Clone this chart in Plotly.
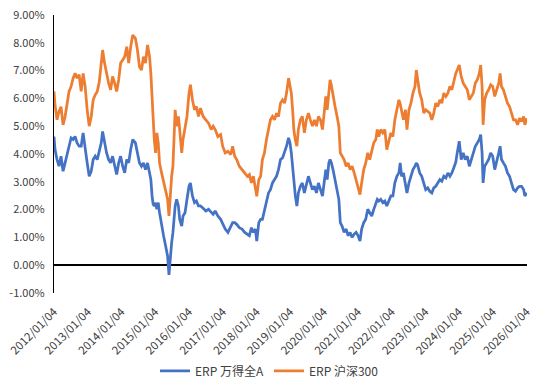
import plotly.graph_objects as go

dates = [
    "2012-01-04","2012-01-15","2012-02-06","2012-02-27","2012-03-20","2012-04-11","2012-05-03","2012-05-24",
    "2012-06-15","2012-07-07","2012-07-29","2012-08-19","2012-09-10","2012-10-02","2012-10-24","2012-11-14",
    "2012-12-06","2012-12-28","2013-01-19","2013-02-10","2013-03-03","2013-03-25","2013-04-16","2013-05-08",
    "2013-05-29","2013-06-13","2013-07-04","2013-07-26","2013-08-17","2013-09-08","2013-09-29","2013-10-21",
    "2013-11-12","2013-12-04","2013-12-25","2014-01-16","2014-02-07","2014-03-01","2014-03-22","2014-04-13",
    "2014-05-05","2014-06-03","2014-06-25","2014-07-17","2014-08-08","2014-08-29","2014-09-20","2014-10-12",
    "2014-11-03","2014-11-17","2014-11-30","2014-12-11","2014-12-24","2015-01-07","2015-01-21","2015-02-05",
    "2015-02-19","2015-03-13","2015-04-04","2015-04-26","2015-05-17","2015-06-01","2015-06-16","2015-06-30",
    "2015-07-14","2015-07-29","2015-08-07","2015-08-23","2015-09-11","2015-09-25","2015-10-17","2015-10-31",
    "2015-11-22","2015-12-13","2016-01-04","2016-01-19","2016-02-10","2016-03-03","2016-03-24","2016-04-15",
    "2016-05-07","2016-06-05","2016-07-04","2016-08-02","2016-08-31","2016-09-21","2016-10-13","2016-11-11",
    "2016-12-11","2017-01-02","2017-01-30","2017-02-28","2017-03-30","2017-04-20","2017-05-12","2017-06-03",
    "2017-07-01","2017-07-31","2017-08-29","2017-09-26","2017-10-18","2017-11-09","2017-11-30","2017-12-22",
    "2018-01-06","2018-01-28","2018-02-17","2018-03-08","2018-03-30","2018-04-21","2018-05-13","2018-06-03",
    "2018-06-25","2018-07-17","2018-08-08","2018-08-29","2018-09-20","2018-10-12","2018-11-03","2018-11-24",
    "2018-12-16","2018-12-31","2019-01-15","2019-01-29","2019-02-11","2019-02-27","2019-03-16","2019-04-01",
    "2019-04-23","2019-05-14","2019-06-05","2019-06-27","2019-07-19","2019-08-09","2019-08-31","2019-09-22",
    "2019-10-14","2019-11-04","2019-11-26","2019-12-18","2020-01-09","2020-01-23","2020-02-07","2020-02-25",
    "2020-03-09","2020-03-22","2020-04-10","2020-05-02","2020-05-24","2020-06-12","2020-06-28","2020-07-17",
    "2020-08-08","2020-08-30","2020-09-20","2020-10-12","2020-11-03","2020-11-25","2020-12-16","2021-01-07",
    "2021-01-27","2021-02-14","2021-03-08","2021-03-30","2021-04-21","2021-05-12","2021-06-03","2021-06-25",
    "2021-07-17","2021-08-02","2021-08-18","2021-09-09","2021-10-01","2021-10-23","2021-11-13","2021-12-05",
    "2021-12-27","2022-01-18","2022-02-08","2022-03-02","2022-03-24","2022-04-07","2022-04-22","2022-05-12",
    "2022-06-03","2022-06-19","2022-07-11","2022-08-01","2022-08-23","2022-09-14","2022-09-28","2022-10-13",
    "2022-11-04","2022-11-26","2022-12-18","2023-01-08","2023-01-30","2023-02-21","2023-03-15","2023-04-05",
    "2023-04-27","2023-05-19","2023-06-10","2023-07-01","2023-07-23","2023-08-14","2023-09-05","2023-09-27",
    "2023-10-18","2023-11-07","2023-11-29","2023-12-15","2024-01-06","2024-01-27","2024-02-18","2024-03-11",
    "2024-04-02","2024-04-24","2024-05-15","2024-06-06","2024-06-28","2024-07-20","2024-08-10","2024-08-25",
    "2024-09-09","2024-09-20","2024-10-07","2024-10-29","2024-11-19","2024-12-11","2025-01-02","2025-01-24",
    "2025-02-14","2025-03-08","2025-03-23","2025-04-07","2025-04-28","2025-05-20","2025-06-11","2025-07-03",
    "2025-07-24","2025-08-15","2025-09-06","2025-09-28","2025-10-19","2025-11-10","2025-12-02","2025-12-16",
    "2026-01-07",
]

erp_hs300 = [
    6.25,5.77,5.23,5.53,5.70,5.05,5.35,5.84,
    6.25,6.43,6.73,6.90,6.73,6.85,6.25,6.90,
    6.43,5.59,5.00,5.35,5.95,6.13,6.25,6.60,
    7.27,7.74,7.27,6.90,6.55,6.31,6.79,6.55,
    6.25,6.67,7.27,7.38,7.50,7.86,7.27,7.86,
    8.28,8.16,7.74,7.14,7.02,7.50,7.27,7.92,
    7.50,6.90,5.83,5.11,4.52,4.04,4.76,4.40,
    3.68,3.32,2.96,2.72,2.37,1.77,2.60,3.20,
    3.56,4.63,5.59,5.00,5.35,4.88,4.04,4.52,
    4.88,5.35,6.19,6.49,5.95,5.59,5.71,5.35,
    5.65,5.35,5.23,5.11,4.88,5.00,4.88,4.63,
    4.70,4.28,4.04,4.10,3.98,4.28,3.92,3.80,
    3.56,3.44,3.32,3.20,3.26,2.96,3.20,2.84,
    2.48,3.08,3.20,3.80,4.04,4.52,4.88,5.23,
    5.35,5.23,5.47,5.35,5.83,5.95,5.83,6.19,
    6.73,6.49,6.19,5.59,4.88,4.50,4.28,4.88,
    5.23,5.35,4.76,5.23,5.47,5.23,5.00,5.23,
    5.00,5.35,5.23,4.88,5.59,6.07,5.59,6.19,
    6.67,6.49,6.07,5.71,5.35,5.00,4.04,3.92,
    3.80,3.56,3.68,3.44,3.56,3.32,3.08,2.84,
    2.54,2.96,3.44,3.68,4.04,3.80,4.16,4.40,
    4.52,4.88,4.63,4.88,4.76,4.88,4.16,4.52,
    4.76,4.63,5.23,5.59,5.95,5.80,5.59,5.23,
    5.59,4.88,5.59,5.83,6.19,6.43,7.02,6.67,
    6.19,5.95,5.47,5.59,5.53,5.47,5.23,5.47,
    5.83,5.71,5.95,5.83,6.19,6.07,6.19,6.43,
    6.31,6.60,6.90,7.02,7.20,6.79,6.55,6.43,
    6.31,5.95,6.07,6.19,6.55,6.67,6.90,7.20,
    6.43,5.05,5.95,6.19,6.31,6.49,6.43,6.07,
    6.31,6.55,6.90,6.43,6.31,6.07,5.83,5.71,
    5.47,5.23,5.23,5.05,5.29,5.17,5.35,5.05,
    5.29,
]

erp_wind_a = [
    4.63,4.16,3.80,3.56,3.92,3.38,3.68,4.04,
    4.28,4.58,4.52,4.63,4.40,4.28,4.28,4.76,
    4.16,3.68,3.20,3.38,3.80,3.92,3.80,4.16,
    4.40,4.81,4.40,4.04,3.80,3.68,3.92,3.56,
    3.26,3.68,3.92,3.56,3.32,3.80,3.68,4.16,
    4.52,4.40,4.04,3.68,3.56,3.68,3.44,3.68,
    3.32,3.08,2.50,2.20,2.13,2.25,2.01,2.25,
    1.89,1.41,1.05,0.69,0.33,-0.35,0.45,0.81,
    1.18,1.65,2.13,2.37,2.13,1.65,1.41,1.77,
    1.89,2.37,2.84,2.96,2.49,2.25,2.31,2.13,
    2.13,2.05,1.95,2.01,1.89,1.83,1.95,1.77,
    1.65,1.50,1.30,1.18,1.40,1.53,1.53,1.47,
    1.35,1.30,1.18,1.12,1.06,1.35,1.18,1.30,
    0.87,1.53,1.65,1.65,2.01,2.25,2.60,2.72,
    2.96,3.08,3.20,3.44,3.80,3.86,4.04,4.28,
    4.58,4.40,4.04,3.44,2.90,2.50,2.13,2.60,
    2.84,2.96,2.60,2.96,3.20,2.96,2.72,2.84,
    2.60,2.96,2.72,2.49,3.08,3.44,3.08,3.68,
    3.80,3.70,3.44,3.08,2.72,2.37,1.53,1.41,
    1.18,1.30,1.06,1.18,1.00,1.12,1.18,1.06,
    0.87,1.30,1.53,1.65,2.01,1.89,1.77,2.01,
    2.25,2.37,2.31,2.37,2.25,2.31,2.13,2.31,
    2.49,2.49,2.96,3.20,3.32,3.68,3.20,3.32,
    2.96,2.60,2.96,3.20,3.44,3.56,3.68,3.60,
    3.32,3.20,2.96,2.72,2.78,2.66,2.60,2.78,
    2.84,2.96,3.08,3.02,3.20,3.14,3.32,3.20,
    3.32,3.50,3.70,4.04,4.46,3.80,4.04,3.80,
    3.92,3.56,3.80,4.04,4.28,4.40,4.52,4.70,
    4.04,2.96,3.56,3.68,3.80,4.04,3.92,3.44,
    3.80,4.04,4.28,3.80,3.68,3.56,3.32,3.20,
    2.96,2.72,2.66,2.78,2.84,2.84,2.72,2.49,
    2.60,
]

x_tick_dates = ["2012-01-04","2013-01-04","2014-01-04","2015-01-04","2016-01-04","2017-01-04",
                "2018-01-04","2019-01-04","2020-01-04","2021-01-04","2022-01-04","2023-01-04",
                "2024-01-04","2025-01-04","2026-01-04"]
x_tick_labels = ["2012/01/04","2013/01/04","2014/01/04","2015/01/04","2016/01/04","2017/01/04",
                 "2018/01/04","2019/01/04","2020/01/04","2021/01/04","2022/01/04","2023/01/04",
                 "2024/01/04","2025/01/04","2026/01/04"]
y_tick_vals = [-1, 0, 1, 2, 3, 4, 5, 6, 7, 8, 9]
y_tick_labels = ["-1.00%","0.00%","1.00%","2.00%","3.00%","4.00%","5.00%","6.00%","7.00%","8.00%","9.00%"]

FONT = "Noto Sans CJK SC"

fig = go.Figure()
fig.add_trace(go.Scatter(x=dates, y=erp_wind_a, mode="lines", name="ERP 万得全A",
                         line=dict(color="#4472C4", width=2.75)))
fig.add_trace(go.Scatter(x=dates, y=erp_hs300, mode="lines", name="ERP 沪深300",
                         line=dict(color="#ED7D31", width=2.75)))

fig.update_layout(
    width=550, height=390,
    margin=dict(l=54, r=23, t=15, b=97, autoexpand=False),
    paper_bgcolor="white", plot_bgcolor="white",
    font=dict(family=FONT, size=11, color="#404040"),
    showlegend=True,
    legend=dict(orientation="h", xref="container", yref="container", x=0.49, y=0.049,
                xanchor="center", yanchor="middle", font=dict(size=12, color="#404040"),
                itemwidth=30, tracegroupgap=0),
)
fig.update_xaxes(
    type="date", range=["2012-01-04", "2026-01-08"], automargin=False,
    tickvals=x_tick_dates, ticktext=x_tick_labels, tickangle=-45,
    showgrid=False, zeroline=False, showline=False, ticks="", ticklabelstandoff=9,
    ticklabeloverflow="allow",
    tickfont=dict(size=11.5, color="#404040"),
)
fig.update_yaxes(
    range=[-1, 9], tickvals=y_tick_vals, ticktext=y_tick_labels, automargin=False,
    showgrid=False, showline=True, linecolor="black", linewidth=1.2,
    zeroline=True, zerolinecolor="black", zerolinewidth=1.5,
    ticks="", ticklabelstandoff=6, ticklabeloverflow="allow",
    tickfont=dict(size=11, color="#404040"),
)

fig.write_html("out.html", config={"displayModeBar": False},
               post_script="document.body.style.margin='0';")
